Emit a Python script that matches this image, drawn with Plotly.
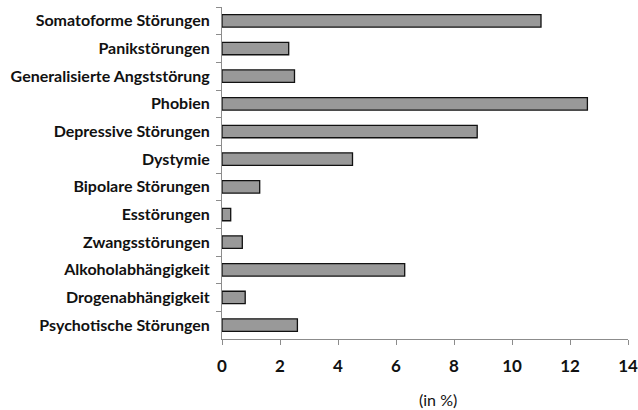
import plotly.graph_objects as go

categories = [
    "Somatoforme Störungen",
    "Panikstörungen",
    "Generalisierte Angststörung",
    "Phobien",
    "Depressive Störungen",
    "Dystymie",
    "Bipolare Störungen",
    "Esstörungen",
    "Zwangsstörungen",
    "Alkoholabhängigkeit",
    "Drogenabhängigkeit",
    "Psychotische Störungen",
]
values = [11.0, 2.3, 2.5, 12.6, 8.8, 4.5, 1.3, 0.3, 0.7, 6.3, 0.8, 2.6]
x_ticks = [0, 2, 4, 6, 8, 10, 12, 14]
x_title = "(in %)"

W, H = 638, 410
L, R, T, B = 221.7, 10.3, 7.3, 70.7

fig = go.Figure(go.Bar(
    x=values, y=categories, orientation="h",
    marker=dict(color="#999999", line=dict(color="#111111", width=1.3)),
))

fig.update_layout(
    width=W, height=H, autosize=False,
    margin=dict(l=L, r=R, t=T, b=B, pad=0),
    paper_bgcolor="white", plot_bgcolor="white",
    bargap=0.55, showlegend=False,
    font=dict(family="Lato, Open Sans, sans-serif", color="#111111"),
)
fig.update_yaxes(
    type="category", autorange="reversed", automargin=False,
    showline=True, linecolor="#8c8c8c", linewidth=1,
    ticks="outside", ticklen=5, tickcolor="#8c8c8c", tickson="boundaries",
    tickfont=dict(size=16, family="Lato", weight="bold", color="#111111"),
    ticklabelstandoff=8, showgrid=False, zeroline=False,
)
fig.update_xaxes(
    range=[0, 14], tickvals=x_ticks, ticktext=[str(v) for v in x_ticks],
    automargin=False,
    showline=True, linecolor="#8c8c8c", linewidth=1,
    ticks="outside", ticklen=5, tickcolor="#8c8c8c",
    tickfont=dict(size=17, family="Lato", weight="bold", color="#111111"),
    ticklabelstandoff=7, showgrid=False, zeroline=False,
)
fig.add_annotation(
    text=x_title, xref="paper", yref="paper",
    x=(438 - L) / (W - L - R), y=-(400 - (H - B)) / (H - T - B),
    showarrow=False, xanchor="center", yanchor="middle",
    font=dict(size=16, family="Lato", color="#111111"),
)

fig.write_html(
    "out.html",
    config={"displayModeBar": False, "responsive": False},
    post_script="document.body.style.margin='0';document.body.style.padding='0';document.body.style.overflow='hidden';",
)
